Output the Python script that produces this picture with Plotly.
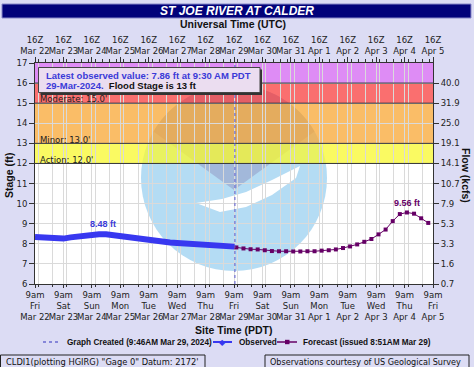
import plotly.graph_objects as go
import pandas as pd
import numpy as np

# ---------------- data ----------------
obs_time = ["2024-03-22 09:00", "2024-03-22 15:00", "2024-03-22 21:00", "2024-03-23 03:00",
            "2024-03-23 09:00", "2024-03-23 15:00", "2024-03-23 21:00", "2024-03-24 03:00",
            "2024-03-24 09:00", "2024-03-24 15:00", "2024-03-24 21:00", "2024-03-25 03:00",
            "2024-03-25 09:00", "2024-03-25 15:00", "2024-03-25 21:00", "2024-03-26 03:00",
            "2024-03-26 09:00", "2024-03-26 15:00", "2024-03-26 21:00", "2024-03-27 03:00",
            "2024-03-27 09:00", "2024-03-27 15:00", "2024-03-27 21:00", "2024-03-28 03:00",
            "2024-03-28 09:00", "2024-03-28 15:00", "2024-03-28 21:00", "2024-03-29 03:00",
            "2024-03-29 09:30"]
obs_stage = [8.34, 8.31, 8.29, 8.27, 8.26, 8.32, 8.37, 8.42, 8.45, 8.48, 8.48, 8.43,
             8.37, 8.31, 8.27, 8.23, 8.19, 8.14, 8.10, 8.07, 8.04, 8.02, 7.98, 7.96,
             7.95, 7.93, 7.91, 7.89, 7.86]

fc_time = list(pd.date_range("2024-03-29 11:00", periods=28, freq="6h"))
fc_stage = [7.82, 7.77, 7.73, 7.72, 7.68, 7.64, 7.63, 7.63, 7.62, 7.62, 7.63, 7.63,
            7.66, 7.68, 7.72, 7.79, 7.87, 7.97, 8.10, 8.24, 8.47, 8.71, 9.13, 9.48,
            9.56, 9.50, 9.27, 9.04]

tick_days = list(pd.date_range("2024-03-22 09:00", "2024-04-05 09:00", freq="1D"))
dow_labels = ["Fri", "Sat", "Sun", "Mon", "Tue", "Wed", "Thu", "Fri", "Sat", "Sun",
              "Mon", "Tue", "Wed", "Thu", "Fri"]
date_labels = ["Mar 22", "Mar 23", "Mar 24", "Mar 25", "Mar 26", "Mar 27", "Mar 28",
               "Mar 29", "Mar 30", "Mar 31", "Apr 1", "Apr 2", "Apr 3", "Apr 4", "Apr 5"]

stage_ticks = [6, 7, 8, 9, 10, 11, 12, 13, 14, 15, 16, 17]
flow_ticks = [6, 7, 8, 9, 10, 11, 12, 13, 14, 15, 16]
flow_labels = ["0.7", "1.6", "3.3", "5.3", "7.9", "10.7", "14.1", "19.1", "25.0", "31.9", "40.0"]

action, minor, moderate, major = 12.0, 13.0, 15.0, 16.0
ymin, ymax = 6, 17
graph_created = "2024-03-29 09:46"

# ---------------- layout geometry ----------------
W_FIG, H_FIG = 474, 367
L, R, T, B = 35, 433, 63, 284
PW, PH = R - L, B - T


def px(x):
    return (x - L) / PW


def py(y):
    return (B - y) / PH


def path(points, close=True):
    s = "M " + " L ".join(f"{px(x):.4f},{py(y):.4f}" for x, y in points)
    return s + (" Z" if close else "")


BG = "#DCDCF4"
FONT = "DejaVu Sans"
BOLD = "Liberation Sans"
OBS_C = "#3838F0"
FC_C = "#660066"
GRID = "#DADADA"

fig = go.Figure()

fig.add_trace(go.Scatter(x=obs_time, y=obs_stage, mode="lines",
                         line=dict(color=OBS_C, width=6), showlegend=False,
                         hoverinfo="skip"))
fig.add_trace(go.Scatter(x=fc_time, y=fc_stage, mode="lines+markers",
                         line=dict(color=FC_C, width=1),
                         marker=dict(symbol="square", size=4, color=FC_C),
                         showlegend=False, hoverinfo="skip"))
# invisible traces to activate the top and right axes
fig.add_trace(go.Scatter(x=[tick_days[0], tick_days[-1]], y=[ymin, ymin], xaxis="x2",
                         mode="lines", line=dict(width=0), showlegend=False, hoverinfo="skip"))
fig.add_trace(go.Scatter(x=[tick_days[0], tick_days[-1]], y=[ymin, ymin], yaxis="y2",
                         mode="lines", line=dict(width=0), showlegend=False, hoverinfo="skip"))

shapes = []
# ---- NOAA watermark (approximate) ----
cx, cy, rad = 234, 178, 93
shapes.append(dict(type="circle", xref="paper", yref="paper", layer="below",
                   x0=px(cx - rad), x1=px(cx + rad), y0=py(cy + rad), y1=py(cy - rad),
                   fillcolor="#B4DCF4", line=dict(width=0)))
# darker upper region: arc over top between wing tips, then V down to tip
a_left, a_right = np.deg2rad(150), np.deg2rad(30)
angs = np.linspace(a_left, a_right, 40)
arc = [(cx + rad * np.cos(a), cy - rad * np.sin(a)) for a in angs]
dark = arc + [(cx, 190)]
shapes.append(dict(type="path", xref="paper", yref="paper", layer="below",
                   path=path(dark), fillcolor="#A2B8DA", line=dict(width=0)))
# white seagull swoosh below the tip
gull = [(196, 203), (222, 199), (246, 192), (272, 180), (300, 166), (296, 178),
        (272, 195), (246, 207), (220, 212)]
shapes.append(dict(type="path", xref="paper", yref="paper", layer="below",
                   path=path(gull), fillcolor="white", line=dict(width=0)))

# ---- flood bands ----
bands = [(action, minor, "rgba(248,248,48,0.76)"),
         (minor, moderate, "rgba(248,168,55,0.76)"),
         (moderate, major, "rgba(248,66,66,0.76)"),
         (major, ymax, "rgba(211,104,242,0.76)")]
for y0, y1, c in bands:
    shapes.append(dict(type="rect", xref="paper", yref="y", layer="below",
                       x0=0, x1=1, y0=y0, y1=y1, fillcolor=c, line=dict(width=0)))
for yv in [action, minor, moderate, major]:
    shapes.append(dict(type="line", xref="paper", yref="y", x0=0, x1=1, y0=yv, y1=yv,
                       line=dict(color="#333333", width=1)))

# graph created dotted line
shapes.append(dict(type="line", xref="x", yref="paper", x0=graph_created, x1=graph_created,
                   y0=0, y1=1, line=dict(color="#5A5AD0", width=1, dash="dot")))

# latest value box (shadow + box)
shapes.append(dict(type="rect", xref="paper", yref="paper",
                   x0=px(40.5), x1=px(262), y0=py(95), y1=py(69.5),
                   fillcolor="#333333", line=dict(width=0)))
shapes.append(dict(type="rect", xref="paper", yref="paper",
                   x0=px(38.5), x1=px(260), y0=py(92.5), y1=py(67.5),
                   fillcolor="#EBDDF0", line=dict(color="#444444", width=1)))

# title bar
shapes.append(dict(type="rect", xref="paper", yref="paper",
                   x0=px(2), x1=px(471), y0=py(18), y1=py(4),
                   fillcolor="#02027A", line=dict(color="#8888C8", width=1)))

# legend line samples
shapes.append(dict(type="line", xref="paper", yref="paper", x0=px(43), x1=px(61),
                   y0=py(342), y1=py(342), line=dict(color="#6A6AD0", width=1.5, dash="dot")))
shapes.append(dict(type="line", xref="paper", yref="paper", x0=px(213), x1=px(232),
                   y0=py(342), y1=py(342), line=dict(color=OBS_C, width=2)))
shapes.append(dict(type="line", xref="paper", yref="paper", x0=px(277), x1=px(297),
                   y0=py(342), y1=py(342), line=dict(color=FC_C, width=1.5)))
shapes.append(dict(type="rect", xref="paper", yref="paper", x0=px(285), x1=px(289.5),
                   y0=py(344.2), y1=py(339.8), fillcolor=FC_C, line=dict(width=0)))

# footer boxes
shapes.append(dict(type="rect", xref="paper", yref="paper", x0=px(0.5), x1=px(205),
                   y0=py(368), y1=py(355), fillcolor=BG, line=dict(color="#222222", width=1)))
shapes.append(dict(type="rect", xref="paper", yref="paper", x0=px(265), x1=px(469),
                   y0=py(368), y1=py(355), fillcolor=BG, line=dict(color="#222222", width=1)))

ann = []


def text(x, y, s, size=8.5, color="#111111", family=FONT, xanchor="center", bold=False,
         italic=False, angle=0):
    if bold:
        s = "<b>" + s + "</b>"
    if italic:
        s = "<i>" + s + "</i>"
    ann.append(dict(x=px(x), y=py(y), xref="paper", yref="paper", text=s, showarrow=False,
                    xanchor=xanchor, yanchor="middle", textangle=angle,
                    font=dict(size=size, color=color, family=family)))


text(237, 11, "ST JOE RIVER AT CALDER", size=12, color="white", family=BOLD, bold=True, italic=True)
text(233, 24, "Universal Time (UTC)", size=10.5, family=BOLD, bold=True)
text(233, 330, "Site Time (PDT)", size=10.5, family=BOLD, bold=True)
text(9, 175, "Stage (ft)", size=10.5, family=BOLD, bold=True, angle=-90)
text(466, 175, "Flow (kcfs)", size=10.5, family=BOLD, bold=True, angle=90)

# threshold labels
text(38, 159.5, "Action: 12.0'", xanchor="left", color="#222222")
text(38, 139.5, "Minor: 13.0'", xanchor="left", color="#222222")
text(38, 99.3, "Moderate: 15.0'", xanchor="left", color="#222222")

# latest obs box text
text(44, 75.5, "Latest observed value: 7.86 ft at 9:30 AM PDT", size=9.5, family=BOLD,
     color="#3A3AD8", bold=True, xanchor="left")
ann.append(dict(x=px(44), y=py(85), xref="paper", yref="paper", showarrow=False,
                xanchor="left", yanchor="middle",
                text="<b><span style='color:#3A3AD8'>29-Mar-2024.</span>  Flood Stage is 13 ft</b>",
                font=dict(size=9.5, color="#111111", family=BOLD)))

# peak labels
ann.append(dict(x="2024-03-24 18:00", y=8.48, xref="x", yref="y", text="<b>8.48 ft</b>",
                showarrow=False, yshift=10, font=dict(size=9, color="#3A3AD8", family=BOLD)))
ann.append(dict(x=fc_time[fc_stage.index(max(fc_stage))], y=max(fc_stage), xref="x", yref="y",
                text="<b>9.56 ft</b>", showarrow=False, yshift=9,
                font=dict(size=9, color=FC_C, family=BOLD)))

# legend text
text(65, 342, "Graph Created (9:46AM Mar 29, 2024)", size=8.2, family=BOLD, bold=True, xanchor="left")
text(222.5, 342, "◆", size=8, color=OBS_C)
text(237, 342, "Observed", size=8.2, family=BOLD, bold=True, xanchor="left")
text(301, 342, "Forecast (issued 8:51AM Mar 29)", size=8.2, family=BOLD, bold=True, xanchor="left")

# footer text
text(4, 361.5, "CLDI1(plotting HGIRG) \"Gage 0\" Datum: 2172'", size=8.3, xanchor="left")
text(268, 361.5, "Observations courtesy of US Geological Survey", size=8.1, xanchor="left")

xrange = [tick_days[0], tick_days[-1]]
tickfont = dict(family=FONT, size=8.5, color="#222222")

fig.update_layout(
    width=W_FIG, height=H_FIG, autosize=False,
    margin=dict(l=L, r=W_FIG - R, t=T, b=H_FIG - B, pad=0),
    paper_bgcolor=BG, plot_bgcolor="white",
    showlegend=False,
    shapes=shapes, annotations=ann,
    xaxis=dict(type="date", range=xrange, tickvals=tick_days,
               ticktext=[f"9am<br>{d}<br>{m}" for d, m in zip(dow_labels, date_labels)],
               tickangle=0, ticks="outside", ticklen=3, tickcolor="#333333",
               tickfont=tickfont, showgrid=True, gridcolor=GRID, gridwidth=1,
               minor=dict(dtick=12 * 3600 * 1000, showgrid=True, gridcolor=GRID,
                          ticks="outside", ticklen=2, tickcolor="#333333"),
               showline=True, linecolor="#333333", linewidth=1, zeroline=False,
               fixedrange=True),
    xaxis2=dict(type="date", range=xrange, overlaying="x", side="top", tickvals=tick_days,
                ticktext=[f"16Z<br>{m}" for m in date_labels], tickangle=0,
                ticks="outside", ticklen=5, tickcolor="#333333", tickfont=tickfont,
                showgrid=False,
                minor=dict(dtick=6 * 3600 * 1000, ticks="outside", ticklen=3,
                           tickcolor="#333333", showgrid=False),
                showline=True, linecolor="#333333", linewidth=1, zeroline=False),
    yaxis=dict(range=[ymin, ymax], tickvals=stage_ticks, ticks="outside", ticklen=5,
               tickcolor="#333333", tickfont=tickfont, showgrid=True, gridcolor=GRID,
               showline=True, linecolor="#333333", linewidth=1, zeroline=False),
    yaxis2=dict(range=[ymin, ymax], overlaying="y", side="right", tickvals=flow_ticks,
                ticktext=flow_labels, ticks="outside", ticklen=5, tickcolor="#333333",
                tickfont=tickfont, showgrid=False, showline=True, linecolor="#333333",
                linewidth=1, zeroline=False),
)

fig.write_html("out.html")
